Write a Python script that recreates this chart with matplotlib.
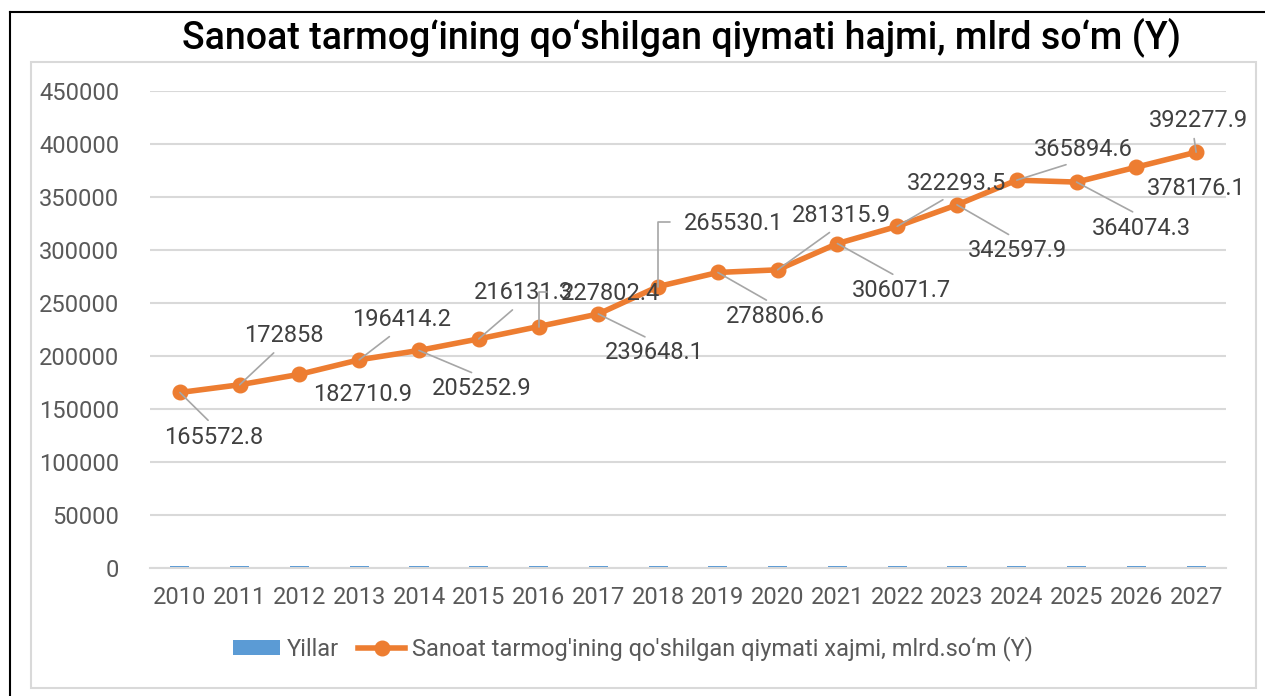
import matplotlib
matplotlib.use("Agg")
import matplotlib.pyplot as plt
from matplotlib.patches import Rectangle
from matplotlib.lines import Line2D

plt.rcParams['font.family'] = ['Roboto', 'DejaVu Sans']

# data
years = ['2010', '2011', '2012', '2013', '2014', '2015', '2016', '2017', '2018',
         '2019', '2020', '2021', '2022', '2023', '2024', '2025', '2026', '2027']
yillar = [2010, 2011, 2012, 2013, 2014, 2015, 2016, 2017, 2018,
          2019, 2020, 2021, 2022, 2023, 2024, 2025, 2026, 2027]
values = [165572.8, 172858, 182710.9, 196414.2, 205252.9, 216131.3, 227802.4, 239648.1,
          265530.1, 278806.6, 281315.9, 306071.7, 322293.5, 342597.9, 365894.6,
          364074.3, 378176.1, 392277.9]
value_labels = ['165572.8', '172858', '182710.9', '196414.2', '205252.9', '216131.3',
                '227802.4', '239648.1', '265530.1', '278806.6', '281315.9', '306071.7',
                '322293.5', '342597.9', '365894.6', '364074.3', '378176.1', '392277.9']

title = "Sanoat tarmog\u2018ining qo\u2018shilgan qiymati hajmi, mlrd so\u2018m (Y)"
bar_name = "Yillar"
line_name = "Sanoat tarmog'ining qo'shilgan qiymati xajmi, mlrd.so\u2018m (Y)"

# label placement (pixel offsets from the point) and leader style
# kind: None = no leader, 'up'/'down' = straight leader, 'angle' = bracket leader
label_pos = [(34, -45, 'down'), (44, 49, 'up'), (63, -20, None), (42, 40, 'up'),
             (63, -38, 'down'), (45, 46, 'up'), (72, 33, 'angle'), (56, -39, 'down'),
             (75, 63, 'angle'), (57, -44, 'down'), (64, 54, 'up'), (64, -47, 'down'),
             (59, 43, 'up'), (60, -46, 'down'), (67, 31, 'up'), (65, -46, 'down'),
             (60, -21, None), (2, 32, 'up')]

W, H = 1265, 696
fig = plt.figure(figsize=(W / 100, H / 100), dpi=100)

# outer black frame (left + top) and light grey chart border
fig.add_artist(Line2D([10 / W, 10 / W], [0, 1 - 12 / H], color='black', lw=1.5))
fig.add_artist(Line2D([10 / W, 1], [1 - 12 / H, 1 - 12 / H], color='black', lw=1.5))
fig.add_artist(Rectangle((31 / W, 1 - 688 / H), (1256 - 31) / W, (688 - 62) / H,
                         fill=False, edgecolor='#D9D9D9', lw=1.5))

ax = fig.add_axes([150 / W, 1 - 568 / H, (1226 - 150) / W, (568 - 91) / H])

x = list(range(len(years)))
bars = ax.bar(x, yillar, width=0.32, color='#5B9BD5', zorder=2, label=bar_name)
line, = ax.plot(x, values, color='#ED7D31', lw=4, marker='o', markersize=10.5,
                zorder=3, label=line_name)

for i in range(len(values)):
    dx, dy, kind = label_pos[i]
    if kind is None:
        ax.annotate(value_labels[i], (x[i], values[i]), xytext=(dx, dy),
                    textcoords='offset pixels', ha='center', va='center',
                    fontsize=17, color='#404040', zorder=4)
    elif kind == 'angle':
        ax.annotate(value_labels[i], (x[i], values[i]), xytext=(dx, dy),
                    textcoords='offset pixels', ha='center', va='center',
                    fontsize=17, color='#404040', zorder=4,
                    arrowprops=dict(arrowstyle='-', color='#A6A6A6', lw=1.2,
                                    relpos=(0, 0.55), shrinkA=8, shrinkB=0,
                                    connectionstyle='angle,angleA=0,angleB=90,rad=0'))
    else:
        rel = (0.45, 0) if kind == 'up' else (0.5, 1)
        ax.annotate(value_labels[i], (x[i], values[i]), xytext=(dx, dy),
                    textcoords='offset pixels', ha='center', va='center',
                    fontsize=17, color='#404040', zorder=4,
                    arrowprops=dict(arrowstyle='-', color='#A6A6A6', lw=1.2,
                                    relpos=rel, shrinkA=3, shrinkB=0))

ax.set_xlim(-0.5, len(years) - 0.5)
ax.set_ylim(0, 450000)
ax.set_yticks(range(0, 450001, 50000))
ax.set_xticks(x)
ax.set_xticklabels(years)
ax.tick_params(axis='both', length=0, labelsize=17, labelcolor='#595959')
ax.tick_params(axis='x', pad=13)
ax.tick_params(axis='y', pad=22)
ax.grid(axis='y', color='#D9D9D9', lw=1.5, zorder=0)
ax.set_axisbelow(True)
for s in ['top', 'right', 'left']:
    ax.spines[s].set_visible(False)
ax.spines['bottom'].set_color('#D9D9D9')
ax.spines['bottom'].set_linewidth(1.5)

fig.text(681 / W, 1 - 37 / H, title, ha='center', va='center', fontsize=27,
         fontweight='medium', color='black')

fig.legend([bars, line], [bar_name, line_name], loc='center',
           bbox_to_anchor=(633 / W, 1 - 649 / H), ncol=2, frameon=False,
           fontsize=17, labelcolor='#595959', handlelength=2.0, handleheight=0.6,
           columnspacing=0.8, handletextpad=0.3)

fig.savefig('out.png', dpi=100)
